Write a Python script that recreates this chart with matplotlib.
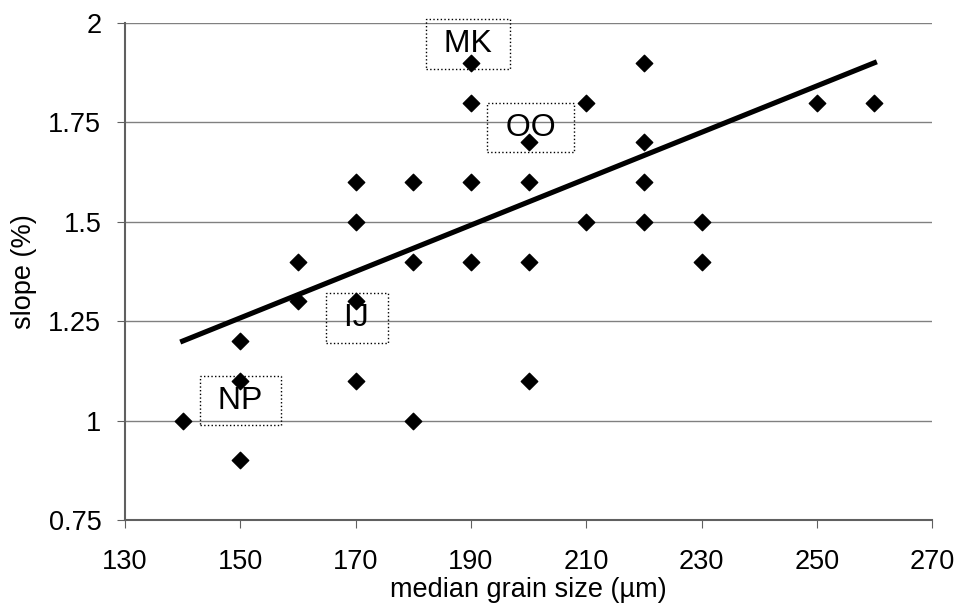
import numpy as np
import matplotlib.pyplot as plt

plt.rcParams['font.family'] = ['Liberation Sans', 'DejaVu Sans']

# median grain size (um) vs slope (%)
grain = [140, 150, 150, 150, 160, 160, 170, 170, 170, 170, 180, 180, 180,
         190, 190, 190, 190, 200, 200, 200, 200, 210, 210, 220, 220, 220, 220,
         230, 230, 250, 260]
slope = [1.0, 1.2, 1.1, 0.9, 1.4, 1.3, 1.6, 1.5, 1.3, 1.1, 1.6, 1.4, 1.0,
         1.9, 1.8, 1.6, 1.4, 1.7, 1.6, 1.4, 1.1, 1.8, 1.5, 1.9, 1.7, 1.6, 1.5,
         1.5, 1.4, 1.8, 1.8]
trend_x = [140, 260]
trend_y = [1.2, 1.9]
labels = ['MK', 'OO', 'IJ', 'NP']
label_x = [189.5, 200.3, 170.2, 150]
label_y = [1.947, 1.737, 1.258, 1.05]

fig = plt.figure(figsize=(9.57, 6.08), dpi=100)
ax = fig.add_axes([0.1306, 0.1447, 0.8434, 0.8175])

ax.set_xlim(130, 270)
ax.set_ylim(0.75, 2)
ax.set_xticks(np.arange(130, 271, 20))
ax.set_yticks([0.75, 1, 1.25, 1.5, 1.75, 2])
ax.set_yticklabels(['0.75', '1', '1.25', '1.5', '1.75', '2'])
ax.yaxis.grid(True, color='#808080', lw=1)
ax.set_axisbelow(True)

ax.plot(trend_x, trend_y, color='black', lw=3.7, zorder=2)
ax.scatter(grain, slope, marker='D', s=70, color='black', zorder=3)

for t, x, y in zip(labels, label_x, label_y):
    ax.text(x, y, ' ' + t + ' ', fontsize=23, ha='center', va='center', zorder=4,
            bbox=dict(boxstyle='square,pad=0.3', fc='none', ec='black', ls=':', lw=1))

for s in ['top', 'right']:
    ax.spines[s].set_visible(False)
for s in ['left', 'bottom']:
    ax.spines[s].set_color('#606060')
    ax.spines[s].set_linewidth(1.5)
ax.tick_params(direction='out', length=6, color='#606060', labelsize=19.5, pad=11)
ax.tick_params(axis='x', pad=15)

ax.set_xlabel('median grain size (\u00b5m)', fontsize=19.5, labelpad=1)
ax.set_ylabel('slope (%)', fontsize=19.5, labelpad=8)

fig.savefig('out.png')
